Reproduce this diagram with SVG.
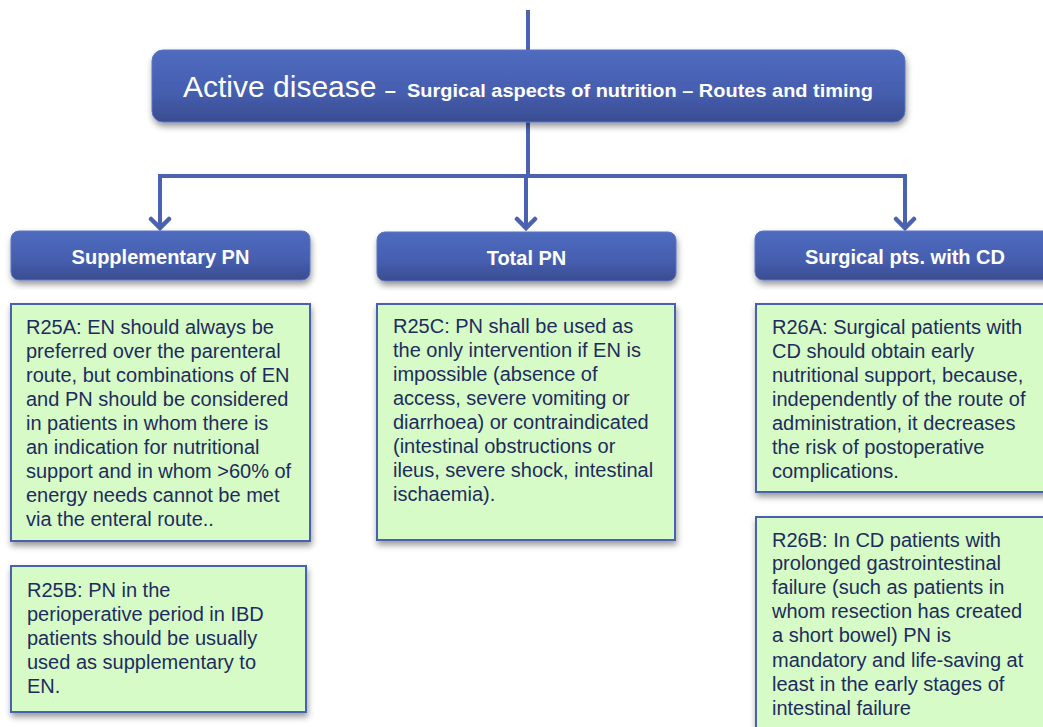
<svg xmlns="http://www.w3.org/2000/svg" width="1043" height="727" viewBox="0 0 1043 727">
<defs>
<linearGradient id="blueGrad" x1="0" y1="0" x2="0" y2="1">
<stop offset="0" stop-color="#4f6bbf"/>
<stop offset="0.6" stop-color="#455eae"/>
<stop offset="1" stop-color="#3a4c90"/>
</linearGradient>
<filter id="shadow" x="-10%" y="-10%" width="120%" height="130%">
<feDropShadow dx="1" dy="4" stdDeviation="3" flood-color="#000" flood-opacity="0.4"/>
</filter>
<marker id="arrow" viewBox="-3 -3 15 24" refX="9" refY="9" markerWidth="15" markerHeight="24" markerUnits="userSpaceOnUse" orient="auto-start-reverse">
<path d="M0,0 L9,9 L0,18" fill="none" stroke="#4a62b0" stroke-width="4.5" stroke-linecap="round" stroke-linejoin="miter"/>
</marker>
</defs>
<style>
.hdr{fill:url(#blueGrad);stroke:#5a74c4;stroke-width:1;filter:url(#shadow)}
.hdrtxt{font-family:"Liberation Sans",Arial,sans-serif;font-weight:bold;font-size:20px;fill:#ffffff;text-anchor:middle}
.note{fill:#d6fbc6;stroke:#4a62b0;stroke-width:2;filter:url(#shadow)}
.notetxt{font-family:"Liberation Sans",Arial,sans-serif;font-size:20px;fill:#1e2b5e}
.conn{fill:none;stroke:#4a62b0;stroke-width:4}
</style>
<rect width="1043" height="727" fill="#ffffff"/>

<g id="connectors">
<line class="conn" x1="528" y1="10" x2="528" y2="50"/>
<line class="conn" x1="528" y1="122" x2="528" y2="176"/>
<polyline class="conn" points="160,228 160,176 905,176 905,228" marker-start="url(#arrow)" marker-end="url(#arrow)"/>
<line class="conn" x1="526" y1="176" x2="526" y2="228" marker-end="url(#arrow)"/>
</g>

<g id="title">
<rect class="hdr" x="152" y="50" width="753" height="72" rx="11"/>
<text x="183" y="97" font-family="'Liberation Sans',Arial,sans-serif" font-size="30" fill="#ffffff">Active disease <tspan font-size="20" font-weight="bold">–</tspan> <tspan font-size="19" font-weight="bold" x="407" textLength="466" lengthAdjust="spacingAndGlyphs">Surgical aspects of nutrition – Routes and timing</tspan></text>
</g>

<g id="supplementary-pn">
<rect class="hdr" x="11" y="231" width="299" height="49" rx="8"/>
<text class="hdrtxt" x="160.5" y="264">Supplementary PN</text>
</g>

<g id="total-pn">
<rect class="hdr" x="377" y="232" width="299" height="49" rx="8"/>
<text class="hdrtxt" x="526.5" y="265">Total PN</text>
</g>

<g id="surgical-cd">
<rect class="hdr" x="755" y="231" width="300" height="49" rx="8"/>
<text class="hdrtxt" x="905" y="264">Surgical pts. with CD</text>
</g>

<g id="r25a">
<rect class="note" x="11" y="304" width="299" height="237"/>
<text class="notetxt">
<tspan x="26" y="334">R25A: EN should always be</tspan>
<tspan x="26" y="358">preferred over the parenteral</tspan>
<tspan x="26" y="382">route, but combinations of EN</tspan>
<tspan x="26" y="406">and PN should be considered</tspan>
<tspan x="26" y="430">in patients in whom there is</tspan>
<tspan x="26" y="454">an indication for nutritional</tspan>
<tspan x="26" y="478">support and in whom &gt;60% of</tspan>
<tspan x="26" y="502">energy needs cannot be met</tspan>
<tspan x="26" y="526">via the enteral route..</tspan>
</text>
</g>

<g id="r25b">
<rect class="note" x="11" y="566" width="295" height="146"/>
<text class="notetxt">
<tspan x="27" y="597">R25B: PN in the</tspan>
<tspan x="27" y="621">perioperative period in IBD</tspan>
<tspan x="27" y="645">patients should be usually</tspan>
<tspan x="27" y="669">used as supplementary to</tspan>
<tspan x="27" y="693">EN.</tspan>
</text>
</g>

<g id="r25c">
<rect class="note" x="377" y="304" width="298" height="236"/>
<text class="notetxt">
<tspan x="393" y="333">R25C: PN shall be used as</tspan>
<tspan x="393" y="357">the only intervention if EN is</tspan>
<tspan x="393" y="381">impossible (absence of</tspan>
<tspan x="393" y="405">access, severe vomiting or</tspan>
<tspan x="393" y="429">diarrhoea) or contraindicated</tspan>
<tspan x="393" y="453">(intestinal obstructions or</tspan>
<tspan x="393" y="477">ileus, severe shock, intestinal</tspan>
<tspan x="393" y="501">ischaemia).</tspan>
</text>
</g>

<g id="r26a">
<rect class="note" x="756" y="304" width="300" height="188"/>
<text class="notetxt">
<tspan x="772" y="334">R26A: Surgical patients with</tspan>
<tspan x="772" y="358">CD should obtain early</tspan>
<tspan x="772" y="382">nutritional support, because,</tspan>
<tspan x="772" y="406">independently of the route of</tspan>
<tspan x="772" y="430">administration, it decreases</tspan>
<tspan x="772" y="454">the risk of postoperative</tspan>
<tspan x="772" y="478">complications.</tspan>
</text>
</g>

<g id="r26b">
<rect class="note" x="756" y="517" width="300" height="220"/>
<text class="notetxt">
<tspan x="772" y="547">R26B: In CD patients with</tspan>
<tspan x="772" y="570">prolonged gastrointestinal</tspan>
<tspan x="772" y="594">failure (such as patients in</tspan>
<tspan x="772" y="618">whom resection has created</tspan>
<tspan x="772" y="642">a short bowel) PN is</tspan>
<tspan x="772" y="667">mandatory and life-saving at</tspan>
<tspan x="772" y="691">least in the early stages of</tspan>
<tspan x="772" y="715">intestinal failure</tspan>
</text>
</g>
</svg>
